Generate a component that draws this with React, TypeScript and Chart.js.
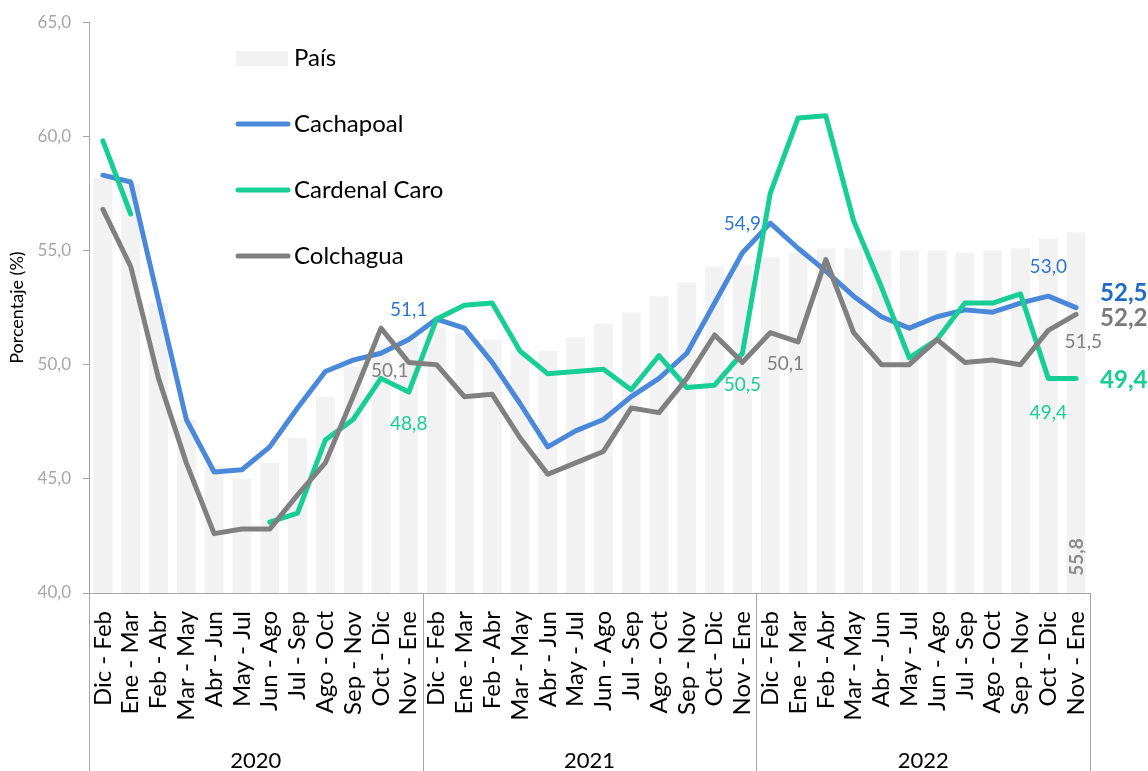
import React, { useEffect, useRef } from "react";
import { Chart, registerables } from "chart.js";

Chart.register(...registerables);

const periods = [
  "Dic - Feb", "Ene - Mar", "Feb - Abr", "Mar - May", "Abr - Jun", "May - Jul",
  "Jun - Ago", "Jul - Sep", "Ago - Oct", "Sep - Nov", "Oct - Dic", "Nov - Ene",
  "Dic - Feb", "Ene - Mar", "Feb - Abr", "Mar - May", "Abr - Jun", "May - Jul",
  "Jun - Ago", "Jul - Sep", "Ago - Oct", "Sep - Nov", "Oct - Dic", "Nov - Ene",
  "Dic - Feb", "Ene - Mar", "Feb - Abr", "Mar - May", "Abr - Jun", "May - Jul",
  "Jun - Ago", "Jul - Sep", "Ago - Oct", "Sep - Nov", "Oct - Dic", "Nov - Ene",
];

const years = ["2020", "2021", "2022"];

const pais = [
  58.2, 57.9, 52.7, 47.6, 45.6, 45.0, 45.7, 46.8, 48.6, 49.9, 50.9, 51.3,
  51.6, 51.4, 51.1, 50.6, 50.6, 51.2, 51.8, 52.3, 53.0, 53.6, 54.3, 54.4,
  54.7, 54.9, 55.1, 55.1, 55.0, 55.0, 55.0, 54.9, 55.0, 55.1, 55.5, 55.8,
];

const cachapoal = [
  58.3, 58.0, 52.8, 47.6, 45.3, 45.4, 46.4, 48.1, 49.7, 50.2, 50.5, 51.1,
  52.0, 51.6, 50.1, 48.3, 46.4, 47.1, 47.6, 48.6, 49.4, 50.5, 52.7, 54.9,
  56.2, 55.1, 54.1, 53.0, 52.1, 51.6, 52.1, 52.4, 52.3, 52.7, 53.0, 52.5,
];

const cardenalCaro = [
  59.8, 56.6, null, null, null, null, 43.1, 43.5, 46.7, 47.6, 49.4, 48.8,
  52.0, 52.6, 52.7, 50.6, 49.6, 49.7, 49.8, 48.9, 50.4, 49.0, 49.1, 50.5,
  57.5, 60.8, 60.9, 56.3, 53.4, 50.3, 51.1, 52.7, 52.7, 53.1, 49.4, 49.4,
];

const colchagua = [
  56.8, 54.3, 49.4, 45.7, 42.6, 42.8, 42.8, 44.3, 45.7, 48.6, 51.6, 50.1,
  50.0, 48.6, 48.7, 46.8, 45.2, 45.7, 46.2, 48.1, 47.9, 49.4, 51.3, 50.1,
  51.4, 51.0, 54.6, 51.4, 50.0, 50.0, 51.1, 50.1, 50.2, 50.0, 51.5, 52.2,
];

const yTicks = [40, 45, 50, 55, 60, 65];

const BLUE = "#4A89DA";
const BLUE_TXT = "#2F76CF";
const BLUE_BOLD = "#1F6BC6";
const GREEN = "#17CE95";
const GRAY = "#808080";
const BAR = "#F2F2F2";
const AXIS = "#A6A6A6";

const fmt = (v: number) => v.toFixed(1).replace(".", ",");

type Lbl = { series: (number | null)[]; i: number; dx: number; dy: number; color: string; bold?: boolean; size: number; align: CanvasTextAlign };

const pointLabels: Lbl[] = [
  { series: cachapoal, i: 11, dx: 0, dy: -30, color: BLUE_TXT, size: 19, align: "center" },
  { series: cardenalCaro, i: 11, dx: 0, dy: 32, color: GREEN, size: 19, align: "center" },
  { series: colchagua, i: 11, dx: -19, dy: 8, color: GRAY, size: 19, align: "center" },
  { series: cachapoal, i: 23, dx: 0, dy: -29, color: BLUE_TXT, size: 19, align: "center" },
  { series: cardenalCaro, i: 23, dx: 0, dy: 32, color: GREEN, size: 19, align: "center" },
  { series: colchagua, i: 23, dx: 43, dy: 1, color: GRAY, size: 19, align: "center" },
  { series: cachapoal, i: 34, dx: 0, dy: -29, color: BLUE_TXT, size: 19, align: "center" },
  { series: cardenalCaro, i: 34, dx: 0, dy: 34, color: GREEN, size: 19, align: "center" },
  { series: colchagua, i: 34, dx: 35, dy: 11, color: GRAY, size: 19, align: "center" },
  { series: cachapoal, i: 35, dx: 24, dy: -14, color: BLUE_BOLD, bold: true, size: 24, align: "left" },
  { series: colchagua, i: 35, dx: 24, dy: 4, color: "#7A7A7A", bold: true, size: 24, align: "left" },
  { series: cardenalCaro, i: 35, dx: 24, dy: 2, color: GREEN, bold: true, size: 24, align: "left" },
];

const decorPlugin = {
  id: "decor",
  afterDraw(chart: any) {
    const ctx = chart.ctx as CanvasRenderingContext2D;
    const x = chart.scales.x;
    const y = chart.scales.y;
    const area = chart.chartArea;
    const H = chart.height;
    ctx.save();

    // group separators
    const n = periods.length;
    const per = n / years.length;
    ctx.strokeStyle = AXIS;
    ctx.lineWidth = 1;
    const bounds: number[] = [];
    for (let g = 0; g <= years.length; g++) {
      let bx: number;
      if (g === 0) bx = x.left;
      else if (g === years.length) bx = x.right;
      else bx = (x.getPixelForValue(g * per - 1) + x.getPixelForValue(g * per)) / 2;
      bounds.push(bx);
      ctx.beginPath();
      ctx.moveTo(Math.round(bx) + 0.5, area.bottom);
      ctx.lineTo(Math.round(bx) + 0.5, H);
      ctx.stroke();
    }
    ctx.fillStyle = "#000";
    ctx.font = "22px Lato";
    ctx.textAlign = "center";
    ctx.textBaseline = "alphabetic";
    years.forEach((yr, g) => {
      ctx.fillText(yr, (bounds[g] + bounds[g + 1]) / 2, H - 3);
    });

    // legend
    const lx = 236;
    ctx.fillStyle = BAR;
    ctx.fillRect(lx, 51, 52, 15);
    const items = [
      { t: "País", c: null, y: 58 },
      { t: "Cachapoal", c: BLUE, y: 124 },
      { t: "Cardenal Caro", c: GREEN, y: 190 },
      { t: "Colchagua", c: GRAY, y: 256 },
    ];
    ctx.lineCap = "round";
    items.forEach((it) => {
      if (it.c) {
        ctx.strokeStyle = it.c;
        ctx.lineWidth = 5;
        ctx.beginPath();
        ctx.moveTo(lx + 2, it.y);
        ctx.lineTo(lx + 52, it.y);
        ctx.stroke();
      }
      ctx.fillStyle = "#000";
      ctx.font = "24px Lato";
      ctx.textAlign = "left";
      ctx.textBaseline = "middle";
      ctx.fillText(it.t, 294, it.y);
    });

    // point labels
    pointLabels.forEach((l) => {
      const v = l.series[l.i] as number;
      const px = x.getPixelForValue(l.i) + l.dx;
      const py = y.getPixelForValue(v) + l.dy;
      ctx.fillStyle = l.color;
      ctx.font = `${l.bold ? "bold " : ""}${l.size}px Lato`;
      ctx.textAlign = l.align;
      ctx.textBaseline = "middle";
      ctx.fillText(fmt(v), px, py);
    });

    // last bar label (rotated)
    const li = pais.length - 1;
    ctx.save();
    ctx.translate(x.getPixelForValue(li) + 1, area.bottom - 36);
    ctx.rotate(-Math.PI / 2);
    ctx.fillStyle = "#8C8C8C";
    ctx.font = "bold 19px Lato";
    ctx.textAlign = "center";
    ctx.textBaseline = "middle";
    ctx.fillText(fmt(pais[li]), 0, 0);
    ctx.restore();

    ctx.restore();
  },
};

export default function App() {
  const ref = useRef<HTMLCanvasElement | null>(null);

  useEffect(() => {
    document.body.style.margin = "0";
    if (!ref.current) return;
    Chart.defaults.font.family = "Lato";
    const lineBase = {
      type: "line" as const,
      borderWidth: 5,
      pointRadius: 0,
      pointHoverRadius: 0,
      tension: 0,
      borderCapStyle: "round" as const,
      borderJoinStyle: "round" as const,
      spanGaps: false,
      fill: false,
    };
    const chart = new Chart(ref.current, {
      type: "bar",
      data: {
        labels: periods,
        datasets: [
          { ...lineBase, label: "Cachapoal", data: cachapoal, borderColor: BLUE, backgroundColor: BLUE, order: 3 },
          { ...lineBase, label: "Cardenal Caro", data: cardenalCaro, borderColor: GREEN, backgroundColor: GREEN, order: 2 },
          { ...lineBase, label: "Colchagua", data: colchagua, borderColor: GRAY, backgroundColor: GRAY, order: 1 },
          {
            type: "bar",
            label: "País",
            data: pais,
            backgroundColor: BAR,
            categoryPercentage: 1,
            barPercentage: 0.68,
            order: 4,
          } as any,
        ],
      },
      options: {
        animation: false,
        responsive: false,
        maintainAspectRatio: false,
        layout: { padding: { left: 0, top: 19, right: 58, bottom: 0 } },
        plugins: { legend: { display: false }, tooltip: { enabled: false } },
        scales: {
          x: {
            type: "category",
            offset: true,
            grid: { display: false, drawTicks: false },
            border: { display: true, color: AXIS, width: 1 },
            ticks: {
              autoSkip: false,
              minRotation: 90,
              maxRotation: 90,
              padding: 18,
              color: "#000",
              font: { family: "Lato", size: 24 },
            },
            afterFit: (s: any) => {
              s.height = 178;
            },
          },
          y: {
            min: 40,
            max: 65,
            afterBuildTicks: (s: any) => {
              s.ticks = yTicks.map((v) => ({ value: v }));
            },
            ticks: {
              callback: (v: any) => fmt(Number(v)),
              color: AXIS,
              padding: 12,
              font: { family: "Lato", size: 17 },
            },
            grid: { drawOnChartArea: false, drawTicks: true, tickLength: 6, color: AXIS },
            border: { display: true, color: AXIS, width: 1 },
            title: {
              display: true,
              text: "Porcentaje (%)",
              color: "#000",
              font: { family: "Lato", size: 18 },
              padding: { top: 6, bottom: 4 },
            },
            afterFit: (s: any) => {
              s.width = 89;
            },
          },
        },
      },
      plugins: [decorPlugin],
    });
    return () => chart.destroy();
  }, []);

  return (
    <div style={{ position: "absolute", left: 0, top: 0, width: 1148, height: 771 }}>
      <canvas ref={ref} width={1148} height={771} style={{ width: 1148, height: 771, display: "block" }} />
    </div>
  );
}
